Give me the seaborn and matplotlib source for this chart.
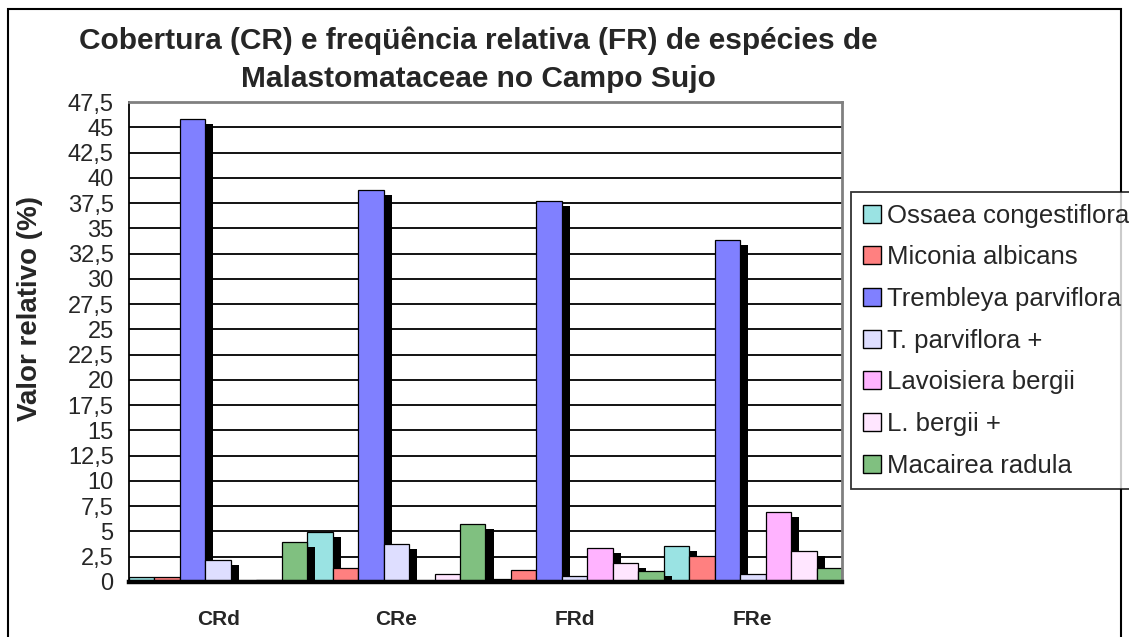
import numpy as np
import pandas as pd
import matplotlib
matplotlib.use("Agg")
import matplotlib.pyplot as plt
import matplotlib.patheffects as pe
from matplotlib.patches import Rectangle, Patch
import seaborn as sns

# valores
categorias = ['CRd', 'CRe', 'FRd', 'FRe']
especies = ['Ossaea congestiflora', 'Miconia albicans', 'Trembleya parviflora',
            'T. parviflora +', 'Lavoisiera bergii', 'L. bergii +', 'Macairea radula']
ossaea = [0.5, 4.9, 0.3, 3.55]
miconia = [0.5, 1.35, 1.15, 2.6]
trembleya = [45.8, 38.8, 37.7, 33.8]
t_parv_mais = [2.2, 3.75, 0.55, 0.75]
lavoisiera = [0.0, 0.0, 3.4, 6.9]
l_bergii_mais = [0.2, 0.75, 1.9, 3.1]
macairea = [4.0, 5.7, 1.1, 1.4]
cores = ['#9AE3E3', '#FF8080', '#8080FF', '#DEDEFF', '#FFB3FF', '#FFE6FF', '#80C080']

series = [ossaea, miconia, trembleya, t_parv_mais, lavoisiera, l_bergii_mais, macairea]
linhas = []
for esp, vals in zip(especies, series):
    for cat, v in zip(categorias, vals):
        linhas.append({'grupo': cat, 'especie': esp, 'valor': v})
df = pd.DataFrame(linhas)

sns.set_style("white")
plt.rcParams['font.family'] = ['Liberation Sans', 'DejaVu Sans']

fig = plt.figure(figsize=(11.29, 6.37), dpi=100)
ax = fig.add_axes([129/1129, 1 - 582/637, (842-129)/1129, (582-102)/637])

sns.barplot(data=df, x='grupo', y='valor', hue='especie', order=categorias,
            hue_order=especies, palette=cores, width=1.0, edgecolor='black',
            linewidth=0.9, saturation=1, legend=False, ax=ax)

# sombra preta deslocada, como no Excel
sombra = [pe.SimplePatchShadow(offset=(5.8, -3.6), shadow_rgbFace='black', alpha=1.0),
          pe.Normal()]
for p in ax.patches:
    p.set_path_effects(sombra)

ax.set_xlim(-0.5, 3.5)
ax.set_ylim(0, 47.5)
yt = np.arange(0, 47.6, 2.5)
ax.set_yticks(yt)
ax.set_yticklabels([('%g' % v).replace('.', ',') for v in yt], fontsize=17)
ax.yaxis.grid(True, color='black', lw=1.3)
ax.set_axisbelow(True)
ax.tick_params(axis='y', direction='inout', length=12, width=1.3, pad=5)

ax.set_xticks([-0.5, 0.5, 1.5, 2.5, 3.5])
ax.set_xticklabels([])
ax.set_xticks(range(4), minor=True)
ax.set_xticklabels(categorias, minor=True, fontsize=15, fontweight='bold')
ax.tick_params(axis='x', which='major', direction='out', length=6, width=1.3)
ax.tick_params(axis='x', which='minor', length=0, pad=20)
ax.set_xlabel('')

ax.set_ylabel('Valor relativo (%)', fontsize=20, fontweight='bold')
ax.yaxis.set_label_coords(-0.12, 0.57)

for s in ['top', 'right']:
    ax.spines[s].set_color('#808080')
    ax.spines[s].set_linewidth(2)
ax.spines['left'].set_color('black')
ax.spines['left'].set_linewidth(1.3)
ax.spines['bottom'].set_color('black')
ax.spines['bottom'].set_linewidth(3.2)

fig.text(478/1129, 1 - 60/637,
         'Cobertura (CR) e freqüência relativa (FR) de espécies de\nMalastomataceae no Campo Sujo',
         ha='center', va='center', fontsize=21.5, fontweight='bold', linespacing=1.45)

handles = [Patch(facecolor=c, edgecolor='black', lw=1) for c in cores]
leg = fig.legend(handles, especies, loc='upper left',
                 bbox_to_anchor=(851/1129, 1 - 192/637), fontsize=18.5,
                 frameon=True, fancybox=False, edgecolor='black',
                 handlelength=0.7, handleheight=0.7, handletextpad=0.25,
                 labelspacing=0.69, borderpad=0.45, borderaxespad=0)
leg.get_frame().set_linewidth(1.3)

fig.add_artist(Rectangle((8/1129, -0.05), (1121-8)/1129, 1.05 - 9/637,
                         transform=fig.transFigure, fill=False, ec='black', lw=1.5))

fig.savefig('out.png', dpi=100)
